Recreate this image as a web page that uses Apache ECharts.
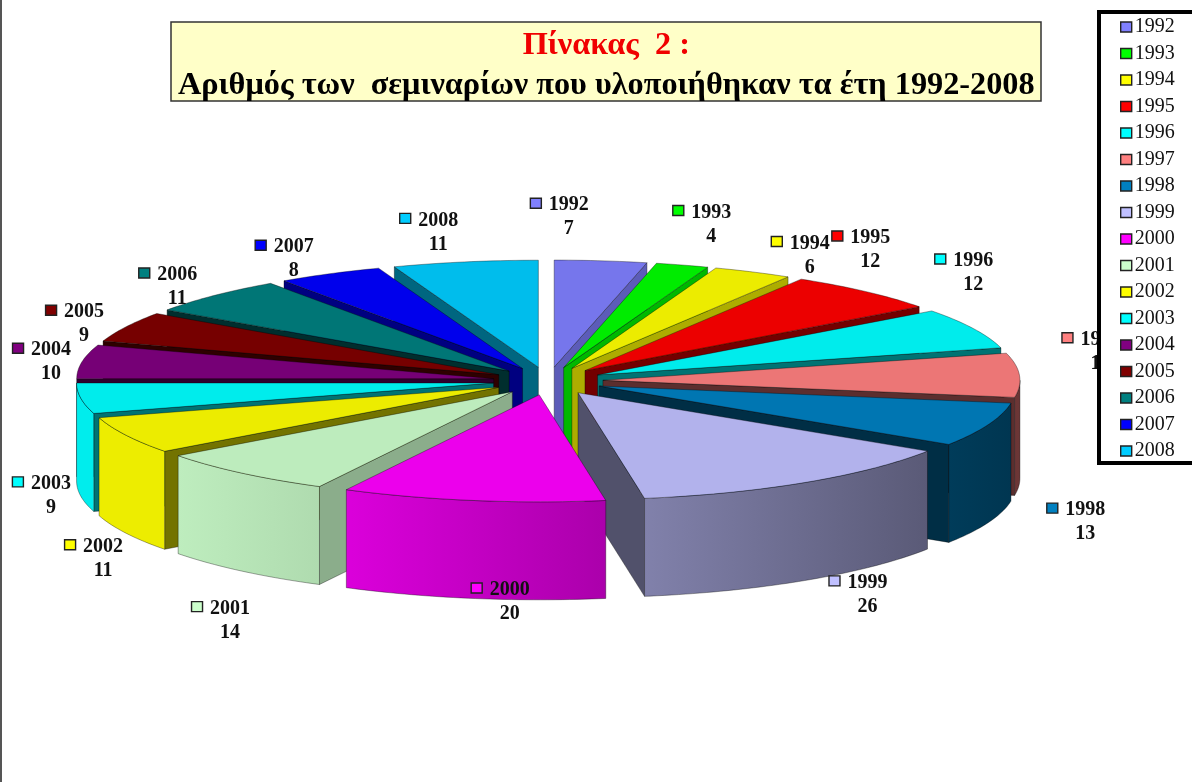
<!DOCTYPE html>
<html><head><meta charset="utf-8">
<style>html,body{margin:0;padding:0;background:#fff}#c{width:1192px;height:782px}</style>
<script src="https://cdn.jsdelivr.net/npm/echarts@6/dist/echarts.min.js"></script>
</head><body><div id="c"></div>
<script>
const years = ['1992','1993','1994','1995','1996','1997','1998','1999','2000','2001','2002','2003','2004','2005','2006','2007','2008'];
const seminars = [7,4,6,12,12,13,13,26,20,14,11,9,10,9,11,8,11];
const baseColors = ['#8080ff','#00ff00','#ffff00','#ff0000','#00ffff','#ff8080','#0080c0','#c0c0ff','#ff00ff','#ccffcc','#ffff00','#00ffff','#800080','#800000','#008080','#0000ff','#00ccff'];
// label nudges relative to each slice's rim point
const labelOffsets = [[-32,-57],[29,-54],[57,-30],[5,-55],[0,-69],[81,-37],[97,84],[62,99],[37,88],[-12,134],[-23,110],[-30,84],[-31,-13],[-42,-16],[-37,-22],[-36,-28],[-27,-43]];
const titleLine1 = 'Πίνακας  2 :';
const titleLine2 = 'Αριθμός των  σεμιναρίων που υλοποιήθηκαν τα έτη 1992-2008';

const PIE = {cx:548, cy:381, rx:417, ry:107, ex:55, ey:14, depth:98};
const total = seminars.reduce((a,b)=>a+b,0);
const toDeg = v => echarts.number.linearMap(v,[0,total],[0,360]);
const rad = d => d*Math.PI/180;
const cum = [];
seminars.reduce((s,v,i)=>{cum[i]=s;return s+v;},0);

function shade(hex,b){
  const n=parseInt(hex.slice(1),16);
  const c=[(n>>16)&255,(n>>8)&255,n&255].map(v=>Math.round(v*b));
  return `rgb(${c[0]},${c[1]},${c[2]})`;
}
const wallLight = n => { n=((n%360)+360)%360; return n<115?0.72:n<130?0.68:n<170?0.45:n<222?0.36:n<255?0.5:0.42; };
const rimLight = t => Math.max(0.36,Math.min(0.93,0.72-0.30*Math.sin(rad(t))));
const STROKE='rgba(0,0,0,0.5)';

function sliceGeom(i,v){
  const a0=toDeg(cum[i]), a1=toDeg(cum[i]+v), mid=(a0+a1)/2;
  const ox=PIE.cx+PIE.ex*Math.sin(rad(mid)), oy=PIE.cy-PIE.ey*Math.cos(rad(mid));
  const pt=t=>[ox+PIE.rx*Math.sin(rad(t)), oy-PIE.ry*Math.cos(rad(t))];
  return {a0,a1,mid,ox,oy,pt};
}
function renderSlice(i){
  return function(params,api){
    const v=api.value(0), g=sliceGeom(i,v), col=baseColors[i], kids=[], d=PIE.depth;
    const wall=(t,n)=>{
      if(Math.cos(rad(n))>=0) return;
      const p=g.pt(t);
      kids.push({type:'polygon',shape:{points:[[g.ox,g.oy],p,[p[0],p[1]+d],[g.ox,g.oy+d]]},
        style:{fill:shade(col,wallLight(n)),stroke:STROKE,lineWidth:0.7}});
    };
    wall(g.a0,g.a0-90);
    wall(g.a1,g.a1+90);
    const r0=Math.max(g.a0,90), r1=Math.min(g.a1,270);
    if(r1>r0){
      const up=[],lo=[];
      for(let t=r0;;t+=1){const u=Math.min(t,r1),p=g.pt(u);up.push(p);lo.unshift([p[0],p[1]+d]);if(u>=r1)break;}
      kids.push({type:'polygon',shape:{points:up.concat(lo)},
        style:{fill:new echarts.graphic.LinearGradient(0,0,1,0,[
          {offset:0,color:shade(col,rimLight(r1))},{offset:1,color:shade(col,rimLight(r0))}]),
          stroke:STROKE,lineWidth:0.7}});
    }
    const top=[[g.ox,g.oy]];
    for(let t=g.a0;;t+=1){const u=Math.min(t,g.a1);top.push(g.pt(u));if(u>=g.a1)break;}
    kids.push({type:'polygon',shape:{points:top},style:{fill:shade(col,0.925),stroke:STROKE,lineWidth:0.7}});
    return {type:'group',children:kids};
  };
}
function renderLabel(params,api){
  const i=params.dataIndex, v=api.value(0), g=sliceGeom(i,v);
  const rimX=PIE.cx+(PIE.rx+PIE.ex)*Math.sin(rad(g.mid));
  const rimY=PIE.cy-(PIE.ry+PIE.ey)*Math.cos(rad(g.mid));
  const x=rimX+labelOffsets[i][0], y=rimY+labelOffsets[i][1]+1.5;
  const font='bold 20px "Liberation Serif"';
  return {type:'group',children:[
    {type:'rect',shape:{x:x-38.5,y:y-7,width:11,height:10},style:{fill:baseColors[i],stroke:'#222',lineWidth:1.4}},
    {type:'text',style:{x:x,y:y,text:years[i],font:font,fill:'#111',textAlign:'center',textVerticalAlign:'middle'}},
    {type:'text',style:{x:x,y:y+24,text:String(v),font:font,fill:'#111',textAlign:'center',textVerticalAlign:'middle'}}
  ]};
}
const order=seminars.map((v,i)=>{const g=sliceGeom(i,v);return {i,k:-Math.cos(rad(g.mid))};}).sort((a,b)=>a.k-b.k);
const rank=[];order.forEach((o,r)=>rank[o.i]=r);

const series=years.map((y,i)=>({
  type:'custom',name:y,coordinateSystem:'none',silent:true,animation:false,z:10+rank[i],
  itemStyle:{color:baseColors[i]},data:[[seminars[i]]],renderItem:renderSlice(i)
}));
series.push({type:'custom',name:'labels',coordinateSystem:'none',silent:true,animation:false,z:60,
  data:seminars.map(v=>[v]),renderItem:renderLabel});

const chart=echarts.init(document.getElementById('c'),null,{renderer:'canvas'});
chart.setOption({
  animation:false,
  backgroundColor:'#ffffff',
  title:{left:171,top:18,z:80,
    text:`{a|${titleLine1}}\n{b|${titleLine2}}`,
    backgroundColor:'#ffffc8',borderColor:'#333',borderWidth:1.5,padding:[8,7,0,7],
    textStyle:{rich:{
      a:{fontFamily:'Liberation Serif',fontWeight:'bold',fontSize:32.3,lineHeight:39.5,color:'#f00000',align:'center'},
      b:{fontFamily:'Liberation Serif',fontWeight:'bold',fontSize:32.3,lineHeight:39.5,color:'#000',align:'center'}
    }}
  },
  legend:{orient:'vertical',left:1099,top:12,z:70,selectedMode:false,data:years,icon:'rect',
    itemWidth:11,itemHeight:10,itemGap:6.5,
    backgroundColor:'#fff',borderColor:'#000',borderWidth:4,borderRadius:0,
    padding:[5,60,2,21],
    itemStyle:{borderColor:'#222',borderWidth:1.4},
    textStyle:{fontFamily:'Liberation Serif',fontSize:20,color:'#111',lineHeight:20,padding:[0,0,0,-2]}
  },
  graphic:[{type:'rect',z:90,silent:true,shape:{x:0,y:0,width:2,height:782},style:{fill:'#555'}}],
  series:series
});
</script></body></html>
